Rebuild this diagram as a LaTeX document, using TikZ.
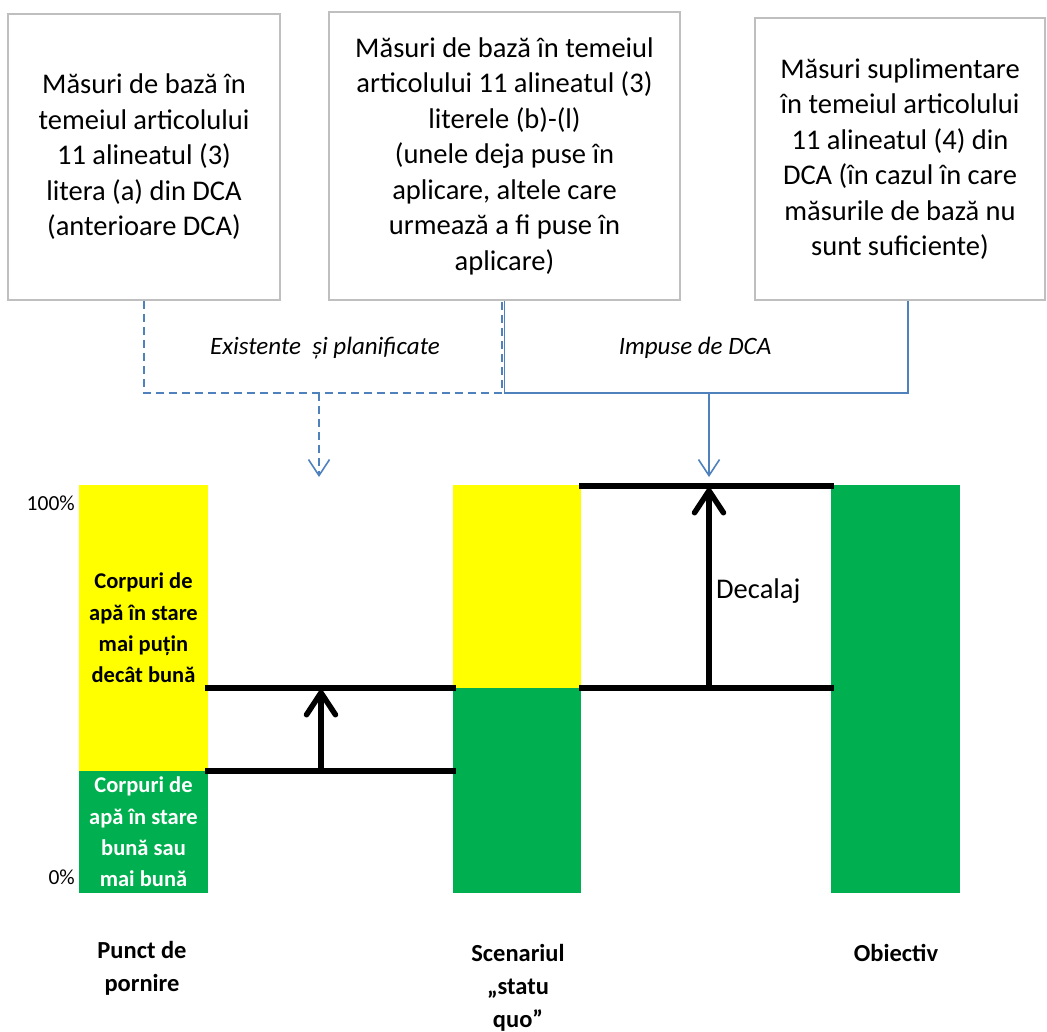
\documentclass[tikz,border=0pt]{standalone}
\usepackage{fontspec}
\setmainfont{Carlito}
\usetikzlibrary{arrows.meta,calc}
\definecolor{linkblue}{HTML}{4F81BD}
\definecolor{boxgray}{HTML}{BFBFBF}
\definecolor{baryellow}{HTML}{FFFF00}
\definecolor{bargreen}{HTML}{00B050}
\begin{document}
\begin{tikzpicture}[x=1pt,y=-1pt,
  topbox/.style={draw=boxgray, line width=2pt, inner sep=0pt, align=center,
    font=\fontsize{28.5}{35.5}\selectfont},
  barpart/.style={inner sep=0pt, align=center, font=\bfseries\fontsize{22.5}{31.3}\selectfont},
  levelline/.style={line width=5.5pt},
  gaparrow/.style={line width=5.5pt, line cap=round, -{Straight Barb[length=22pt,width=29pt,round]}},
  linkline/.style={draw=linkblue, line width=1.6pt},
  linkdash/.style={linkline, dash pattern=on 8pt off 5pt},
  linktip/.style={-{Straight Barb[length=16pt,width=21pt]}},
  flowlabel/.style={font=\itshape\fontsize{25}{30}\selectfont},
  pct/.style={anchor=east, inner sep=0pt, font=\fontsize{21.5}{24}\selectfont},
  bottomlabel/.style={align=center, inner sep=0pt, font=\bfseries\fontsize{24.5}{33}\selectfont}
]
\useasboundingbox (0,0) rectangle (1047,1032);

% top boxes
\node[topbox, minimum width=272pt, minimum height=286pt] (b1) at (144,157)
  {Măsuri de bază în\\temeiul articolului\\11 alineatul (3)\\litera (a) din DCA\\(anterioare DCA)};
\node[topbox, minimum width=351pt, minimum height=288pt] (b2) at (504.5,156)
  {Măsuri de bază în temeiul\\articolului 11 alineatul (3)\\literele (b)-(l)\\(unele deja puse în\\aplicare, altele care\\urmează a fi puse în\\aplicare)};
\node[topbox, minimum width=290pt, minimum height=282pt] (b3) at (900,159)
  {Măsuri suplimentare\\în temeiul articolului\\11 alineatul (4) din\\DCA (în cazul în care\\măsurile de bază nu\\sunt suficiente)};

% connector coordinates
\coordinate (d1) at (144,393);
\coordinate (d2) at (502,393);
\coordinate (dm) at (319,393);
\coordinate (dt) at (319,477);
\coordinate (s1) at (504.5,393);
\coordinate (s2) at (908,393);
\coordinate (sm) at (709,393);
\coordinate (st) at (709,477);

\draw[linkdash] (b1.south) -- (d1) -- (d2) -- (d2 |- b2.south);
\draw[linkdash, linktip] (dm) -- (dt);
\draw[linkline] (s1 |- b2.south) -- (s1) -- (s2) -- (s2 |- b3.south);
\draw[linkline, linktip] (sm) -- (st);

\node[flowlabel] (lab1) at (325,348) {Existente\ \ și planificate};
\node[flowlabel] (lab2) at (695,348) {Impuse de DCA};

% bars
\node[barpart, fill=baryellow, minimum width=129pt, minimum height=286pt] (y1) at (143.5,628)
  {Corpuri de\\apă în stare\\mai puțin\\decât bună};
\node[barpart, fill=bargreen, text=white, minimum width=129pt, minimum height=122pt] (g1) at (143.5,832)
  {Corpuri de\\apă în stare\\bună sau\\mai bună};
\node[fill=baryellow, inner sep=0pt, minimum width=128pt, minimum height=203pt] (y2) at (517,586.5) {};
\node[fill=bargreen, inner sep=0pt, minimum width=128pt, minimum height=205pt] (g2) at (517,790.5) {};
\node[fill=bargreen, inner sep=0pt, minimum width=129pt, minimum height=408pt] (g3) at (895.5,689) {};

\node[pct] (p100) at (75,503) {100\%};
\node[pct] (p0) at (75,877) {0\%};

% level lines
\coordinate (a1) at (205,688);
\coordinate (a2) at (456,688);
\coordinate (c1) at (205,771);
\coordinate (c2) at (456,771);
\coordinate (e1) at (579,688);
\coordinate (e2) at (834,688);
\coordinate (f1) at (579,486);
\coordinate (f2) at (834,486);
\draw[levelline] (a1) -- (a2);
\draw[levelline] (c1) -- (c2);
\draw[levelline] (e1) -- (e2);
\draw[levelline] (f1) -- (f2);

\coordinate (ga) at (321,771);
\coordinate (gb) at (321,690);
\coordinate (ha) at (709,688);
\coordinate (hb) at (709,488);
\draw[gaparrow] (ga) -- (gb);
\draw[gaparrow] (ha) -- (hb);

\node[anchor=west, inner sep=0pt, font=\fontsize{28.5}{35.5}\selectfont] (gap) at (716,591) {Decalaj};

% bottom labels
\node[bottomlabel] (t1) at (142,968.5) {Punct de\\pornire};
\node[bottomlabel] (t2) at (518,988) {Scenariul\\„statu\\quo”};
\node[bottomlabel] (t3) at (896,953) {Obiectiv};
\end{tikzpicture}
\end{document}
